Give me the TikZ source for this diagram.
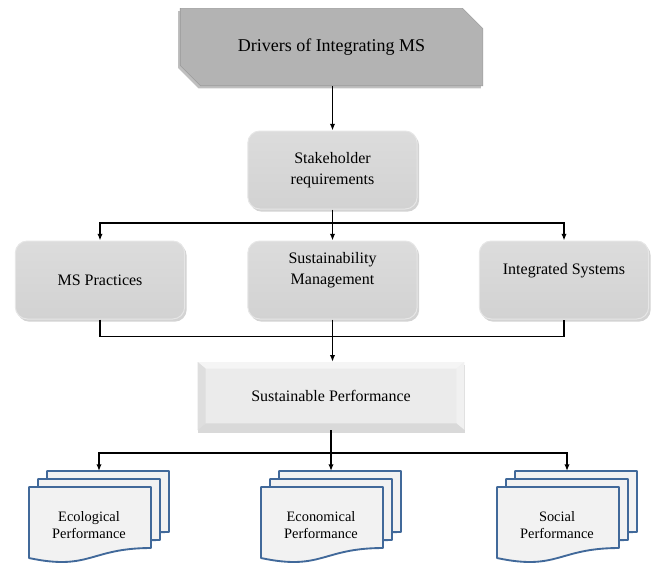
\documentclass[tikz,border=0pt]{standalone}
\usepackage{fontspec}
\setmainfont{Liberation Serif}
\usepackage{tikz}
\usetikzlibrary{arrows.meta,shapes.misc,shadows}

\definecolor{drivgray}{HTML}{B3B3B3}
\definecolor{drivline}{HTML}{9A9A9A}
\definecolor{boxgray}{HTML}{D2D2D2}
\definecolor{boxtop}{HTML}{DCDCDC}
\definecolor{boxline}{HTML}{E6E6E6}
\definecolor{docblue}{HTML}{41699A}
\definecolor{docfill}{HTML}{F2F2F2}

% stack of three pages, front page top left at (#2,#3)
\newcommand{\docstack}[4]{%
  \foreach \k in {2,1,0} {
    \begin{scope}[shift={(#2+9*\k,#3-8*\k)}]
      \draw[docpage] (0,0) -- (122,0) -- (122,61)
        .. controls (61,61) and (61,84) .. (0,71) -- cycle;
    \end{scope}
  }
  \node[doctext] (#1) at (#2+60,#3+38) {#4};
  \coordinate (#1top) at (#2+70,#3-16);
}

\begin{document}
\begin{tikzpicture}[x=0.75pt, y=-0.75pt,
    every node/.style={inner sep=0pt, align=center, font=\fontsize{12}{15.5}\selectfont},
    conn/.style={line width=1pt, black},
    arr/.style={conn, -{Latex[length=5pt,width=4pt]}},
    driver/.style={chamfered rectangle, chamfered rectangle corners={north east,south west},
      chamfered rectangle xsep=9pt, chamfered rectangle ysep=9pt,
      fill=drivgray, draw=drivline, line width=0.5pt,
      minimum width=227pt, minimum height=58pt,
      drop shadow={shadow xshift=-1.5pt, shadow yshift=-2pt, opacity=0.5},
      font=\fontsize{13.5}{16}\selectfont},
    softbox/.style={rectangle, rounded corners=9pt, draw=boxline, line width=0.75pt,
      top color=boxtop, bottom color=boxgray,
      minimum width=127pt, minimum height=58.5pt,
      drop shadow={shadow xshift=1.5pt, shadow yshift=-2pt, opacity=0.35}},
    raised/.style={text depth=17pt},
    bevelbox/.style={rectangle, fill=gray!16,
      minimum width=200pt, minimum height=51pt,
      drop shadow={shadow xshift=0.5pt, shadow yshift=-2pt, opacity=0.3},
      path picture={
        \path (path picture bounding box.north west) coordinate (pnw)
              (path picture bounding box.north east) coordinate (pne)
              (path picture bounding box.south east) coordinate (pse)
              (path picture bounding box.south west) coordinate (psw);
        \fill[gray!8] (pnw) -- (pne) -- ([shift={(-6pt,-5pt)}]pne) -- ([shift={(6pt,-5pt)}]pnw) -- cycle;
        \fill[gray!26] (pnw) -- (psw) -- ([shift={(6pt,5pt)}]psw) -- ([shift={(6pt,-5pt)}]pnw) -- cycle;
        \fill[gray!11] (pne) -- (pse) -- ([shift={(-6pt,5pt)}]pse) -- ([shift={(-6pt,-5pt)}]pne) -- cycle;
        \fill[gray!30] (psw) -- (pse) -- ([shift={(-6pt,5pt)}]pse) -- ([shift={(6pt,5pt)}]psw) -- cycle;
      }},
    docpage/.style={fill=docfill, draw=docblue, line width=1.4pt, line join=round},
    doctext/.style={font=\fontsize{10.8}{12.5}\selectfont}]

  \useasboundingbox (0,0) rectangle (655,562);

  % top of the chart
  \node[driver] (driv) at (331.5,47) {Drivers of Integrating MS};
  \node[softbox] (stake) at (332.5,170) {Stakeholder\\requirements};

  % middle row
  \node[softbox] (mspr) at (100,280) {MS Practices};
  \node[softbox, raised] (sustm) at (332.5,280) {Sustainability\\Management};
  \node[softbox, raised] (intg) at (564,280) {Integrated Systems};

  \node[bevelbox] (perf) at (331,396) {Sustainable Performance};

  % the three performance documents
  \docstack{ecol}{29}{487}{Ecological\\Performance}
  \docstack{econ}{261}{487}{Economical\\Performance}
  \docstack{soc}{497}{487}{Social\\Performance}

  % connectors
  \draw[arr] (stake.north |- driv.south) -- (stake.north);
  \draw[conn] (stake.south) -- (332.5,223) coordinate (j1);
  \draw[arr] (j1) -| (mspr.north);
  \draw[arr] (j1) -| (intg.north);
  \draw[arr] (j1) -- (sustm.north);

  \draw[conn] (mspr.south) -- ++(0,17) coordinate (j2) -| (intg.south);
  \draw[arr] (sustm.south) -- (sustm.south |- perf.north);

  \draw[conn] (perf.south) -- (331,453) coordinate (j3);
  \draw[arr] (j3) -| (ecoltop);
  \draw[arr] (j3) -| (soctop);
  \draw[arr] (j3) -- (econtop);
\end{tikzpicture}
\end{document}
